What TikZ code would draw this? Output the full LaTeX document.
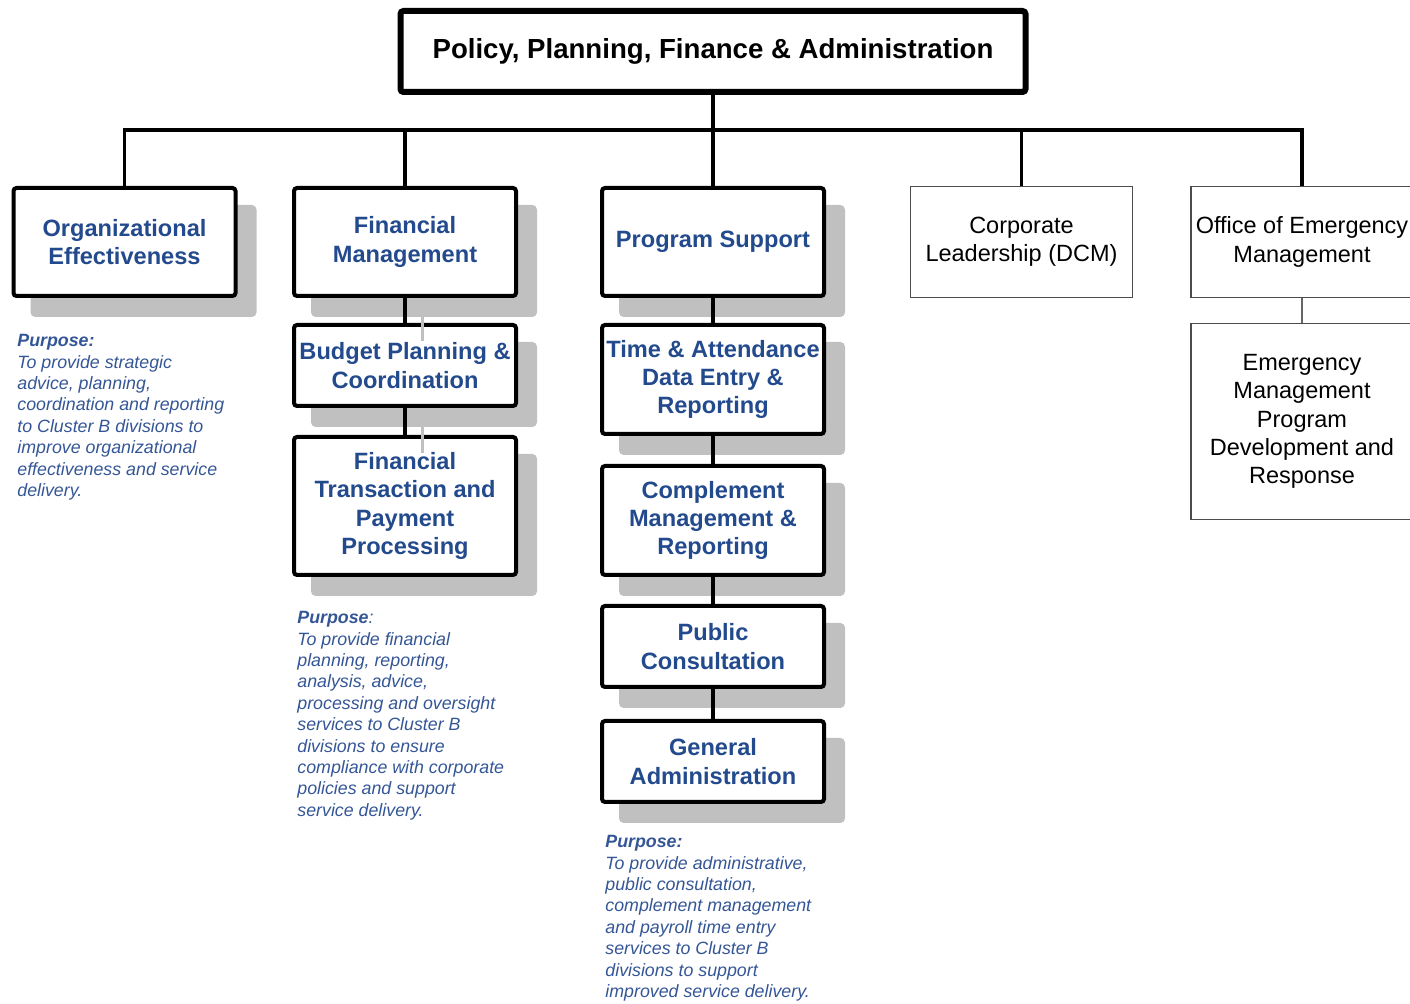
\documentclass[tikz,border=0pt]{standalone}
\usepackage{fontspec}
\setmainfont{Liberation Sans}
\usepackage{tikz}
\usetikzlibrary{shadows}

\definecolor{unitblue}{RGB}{34,74,140}
\definecolor{noteblue}{RGB}{52,86,150}
\definecolor{shadowgray}{RGB}{192,192,192}

\begin{document}
\begin{tikzpicture}[x=0.5pt, y=-0.5pt,
    headbox/.style={draw, line width=3pt, rounded corners=1.5pt, fill=white,
        minimum width=312.5pt, minimum height=40.5pt, inner sep=0pt,
        font=\bfseries\fontsize{13.8}{16}\selectfont},
    unit/.style={draw, line width=2pt, rounded corners=1.5pt, fill=white,
        minimum width=111pt, inner sep=0pt, align=center, text=unitblue,
        font=\bfseries\fontsize{11.8}{14.2}\selectfont,
        drop shadow={shadow xshift=9.5pt, shadow yshift=-9.5pt, fill=shadowgray,
            draw=shadowgray, line width=2pt, opacity=1}},
    plainunit/.style={draw=black!70, line width=0.6pt, fill=white,
        minimum width=111pt, inner sep=0pt, align=center,
        font=\fontsize{11.75}{14.2}\selectfont},
    purpose/.style={anchor=north west, inner sep=0pt, align=left, text=noteblue,
        font=\itshape\fontsize{8.9}{10.7}\selectfont},
    link/.style={line width=1.75pt},
    shadowlink/.style={shadowgray, line width=1.5pt},
    thinlink/.style={black!60, line width=0.6pt}]

    \useasboundingbox (0,0) rectangle (1410,1004);

    % top of the tree
    \node[headbox] at (713, 51.5) (title) {Policy, Planning, Finance \& Administration};
    \coordinate (bus) at (713, 130);

    % first column
    \node[unit, minimum height=54pt] at (124.5, 242) (oe) {Organizational\\Effectiveness};

    % second column
    \node[unit, minimum height=54pt] at (405, 242) (fm) {Financial\\Management};
    \node[unit, minimum height=40.5pt] at (405, 365.5) (bpc) {Budget Planning \&\\Coordination};
    \node[unit, minimum height=69pt] at (405, 506) (ftp) {Financial\\Transaction and\\Payment\\Processing};

    % third column
    \node[unit, minimum height=54pt] at (713, 242) (ps) {Program Support};
    \node[unit, minimum height=54.5pt] at (713, 379.5) (tad) {Time \& Attendance\\Data Entry \&\\Reporting};
    \node[unit, minimum height=54.5pt] at (713, 520.5) (cmr) {Complement\\Management \&\\Reporting};
    \node[unit, minimum height=40.5pt] at (713, 646.5) (pc) {Public\\Consultation};
    \node[unit, minimum height=40.5pt] at (713, 761.5) (ga) {General\\Administration};

    % last two columns
    \node[plainunit, minimum height=55.5pt] at (1021.5, 242) (cl) {Corporate\\Leadership (DCM)};
    \node[plainunit, minimum height=55.5pt] at (1302, 242) (oem) {Office of Emergency\\Management};
    \node[plainunit, minimum height=98pt] at (1302, 421.5) (emp) {Emergency\\Management\\Program\\Development and\\Response};

    % purpose notes
    \node[purpose] at (17, 334) (oep) {\textbf{Purpose:}\\To provide strategic\\advice, planning,\\coordination and reporting\\to Cluster B divisions to\\improve organizational\\effectiveness and service\\delivery.};
    \node[purpose] at (297, 611) (fmp) {\textbf{Purpose}:\\To provide financial\\planning, reporting,\\analysis, advice,\\processing and oversight\\services to Cluster B\\divisions to ensure\\compliance with corporate\\policies and support\\service delivery.};
    \node[purpose] at (605, 835) (psp) {\textbf{Purpose:}\\To provide administrative,\\public consultation,\\complement management\\and payroll time entry\\services to Cluster B\\divisions to support\\improved service delivery.};

    % connectors
    \draw[link] (title) -- (bus);
    \foreach \unit in {oe, fm, ps, cl, oem}
        \draw[link] (bus) -| (\unit.north);
    \draw[link] (fm) -- (bpc) (bpc) -- (ftp);
    \draw[link] (ps) -- (tad) (tad) -- (cmr) (cmr) -- (pc) (pc) -- (ga);
    \draw[thinlink] (oem) -- (emp);
    \draw[shadowlink] ([shift={(17,18)}]fm.south) -- ([shift={(17,18)}]bpc.north)
        ([shift={(17,18)}]bpc.south) -- ([shift={(17,18)}]ftp.north);
\end{tikzpicture}
\end{document}
